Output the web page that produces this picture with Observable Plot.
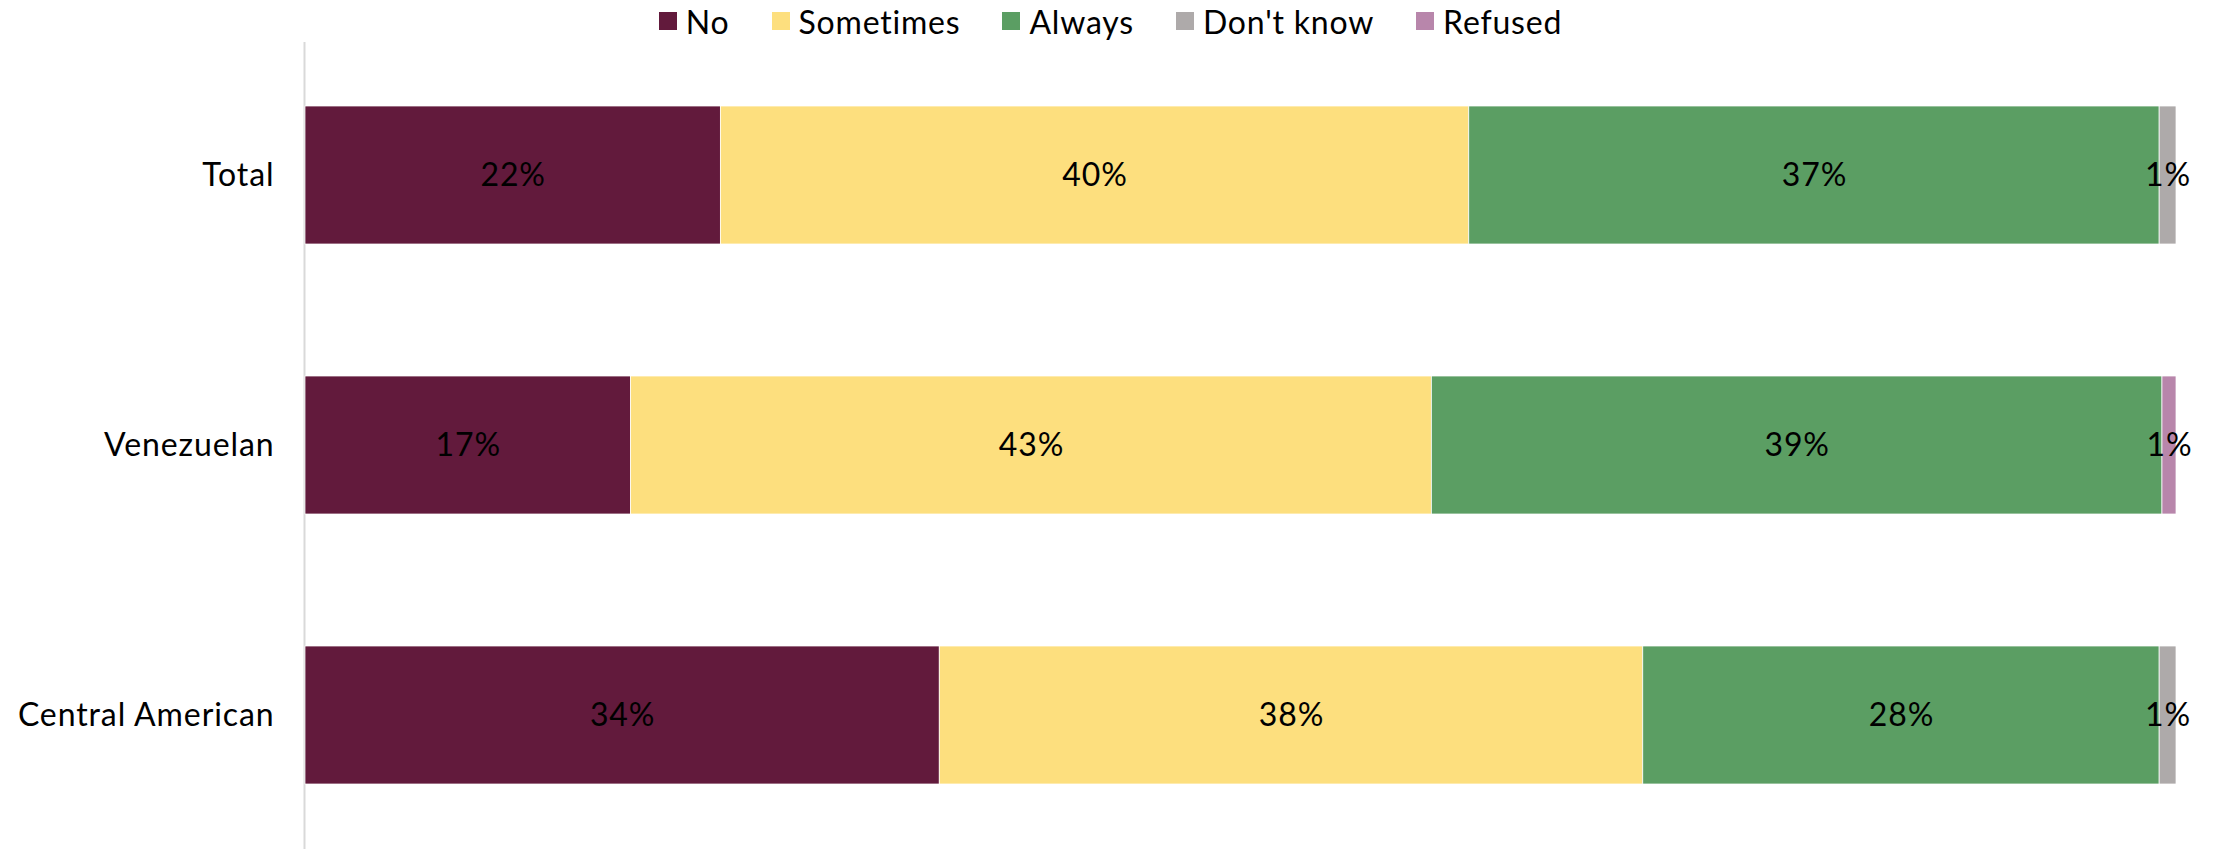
<!DOCTYPE html>
<html>
<head>
<meta charset="utf-8">
<script src="https://cdn.jsdelivr.net/npm/d3@7"></script>
<script src="https://cdn.jsdelivr.net/npm/@observablehq/plot@0.6"></script>
<style>
  html, body { margin: 0; padding: 0; background: #fff; }
  body { width: 2221px; height: 849px; overflow: hidden; font-family: Lato, sans-serif; }
  #legend { height: 42px; display: flex; justify-content: center; align-items: center; font-size: 32px; color: #000; letter-spacing: 0.8px; }
  #legend .item { display: flex; align-items: center; margin: 0 21px; }
  #legend .sw { width: 18px; height: 18px; margin-right: 9px; display: inline-block; }
  #chart svg text { letter-spacing: 0.9px; }
</style>
</head>
<body>
<div id="legend"></div>
<div id="chart"></div>
<script>
const groups = ["Total", "Venezuelan", "Central American"];
const answers = ["No", "Sometimes", "Always", "Don't know", "Refused"];
const colors = ["#621a3c", "#fddf7e", "#5b9e63", "#aeaaaa", "#b886ab"];
const no = [22.2, 17.4, 33.9];
const sometimes = [40.0, 42.8, 37.6];
const always = [36.9, 39.05, 27.6];
const dontKnow = [0.9, 0, 0.9];
const refused = [0, 0.75, 0];

const series = [no, sometimes, always, dontKnow, refused];
const data = [];
groups.forEach((g, i) => {
  answers.forEach((a, j) => {
    const v = series[j][i];
    if (v > 0) data.push({group: g, answer: a, value: v});
  });
});

const legend = document.getElementById("legend");
answers.forEach((a, j) => {
  const it = document.createElement("span");
  it.className = "item";
  const sw = document.createElement("span");
  sw.className = "sw";
  sw.style.background = colors[j];
  it.appendChild(sw);
  it.appendChild(document.createTextNode(a));
  legend.appendChild(it);
});

const chart = Plot.plot({
  width: 2221,
  height: 807,
  marginLeft: 305,
  marginRight: 45,
  marginTop: 0,
  marginBottom: 0,
  style: {fontFamily: "Lato, sans-serif", fontSize: "32px", color: "#000", background: "#fff"},
  x: {domain: [0, 100], axis: null},
  y: {domain: groups, paddingInner: 0.488, paddingOuter: 0.236, axis: null, label: null},
  color: {domain: answers, range: colors},
  marks: [
    Plot.ruleX([0], {stroke: "#d9d9d9", strokeWidth: 2, dx: -1}),
    Plot.barX(data, {x: "value", y: "group", fill: "answer", order: answers, stroke: "white", strokeWidth: 0.75}),
    Plot.text(data, Plot.stackX({x: "value", y: "group", z: "answer", order: answers,
      text: d => Math.round(d.value) + "%", fill: "#000", fontSize: 32})),
    Plot.axisY({tickSize: 0, tickPadding: 31, fontSize: 32, textAnchor: "end", fill: "#000", label: null})
  ]
});
document.getElementById("chart").appendChild(chart);
</script>
</body>
</html>
